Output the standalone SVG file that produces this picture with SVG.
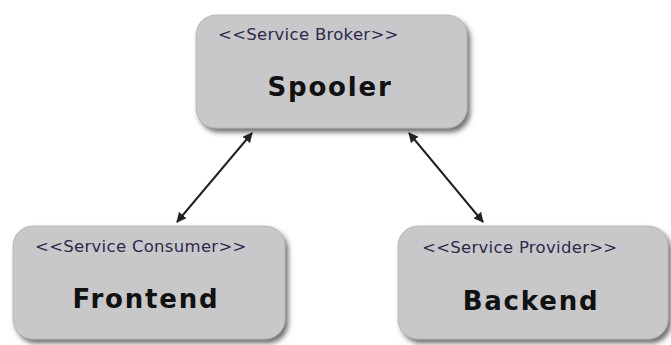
<svg xmlns="http://www.w3.org/2000/svg" width="671" height="345" viewBox="0 0 671 345">
<style>
.box{fill:#c8c8ca;stroke:#b0b0b4;stroke-width:0.8;filter:url(#sh)}
.st{font-family:"DejaVu Sans",Verdana,sans-serif;font-size:16.5px;fill:#2c2a4a;letter-spacing:0.3px}
.nm{font-family:"DejaVu Sans",Verdana,sans-serif;font-size:26px;font-weight:bold;fill:#111;letter-spacing:1.8px;text-anchor:middle}
.ln{stroke:#222;stroke-width:2;fill:none;marker-start:url(#ah);marker-end:url(#ah)}
</style>
<defs>
<filter id="sh" x="-10%" y="-10%" width="125%" height="130%">
<feDropShadow dx="3" dy="4" stdDeviation="2.5" flood-color="#303038" flood-opacity="0.7"/>
</filter>
<marker id="ah" viewBox="0 0 10 10" refX="9" refY="5" markerWidth="5" markerHeight="5" orient="auto-start-reverse" markerUnits="strokeWidth">
<path d="M0,0 L10,5 L0,10 z" fill="#222"/>
</marker>
</defs>
<rect width="671" height="345" fill="#fff"/>
<g id="spooler">
<rect class="box" x="196" y="15" width="271" height="113" rx="20"/>
<text class="st" x="218" y="40">&lt;&lt;Service Broker&gt;&gt;</text>
<text class="nm" x="330" y="96">Spooler</text>
</g>
<g id="frontend">
<rect class="box" x="13" y="226" width="272" height="113" rx="20"/>
<text class="st" x="35" y="252">&lt;&lt;Service Consumer&gt;&gt;</text>
<text class="nm" x="146" y="308">Frontend</text>
</g>
<g id="backend">
<rect class="box" x="398" y="226" width="270" height="113" rx="20"/>
<text class="st" x="422" y="253">&lt;&lt;Service Provider&gt;&gt;</text>
<text class="nm" x="531" y="310">Backend</text>
</g>
<g id="connectors">
<line class="ln" x1="252" y1="133" x2="177" y2="222"/>
<line class="ln" x1="409" y1="133" x2="483" y2="222"/>
</g>
</svg>
